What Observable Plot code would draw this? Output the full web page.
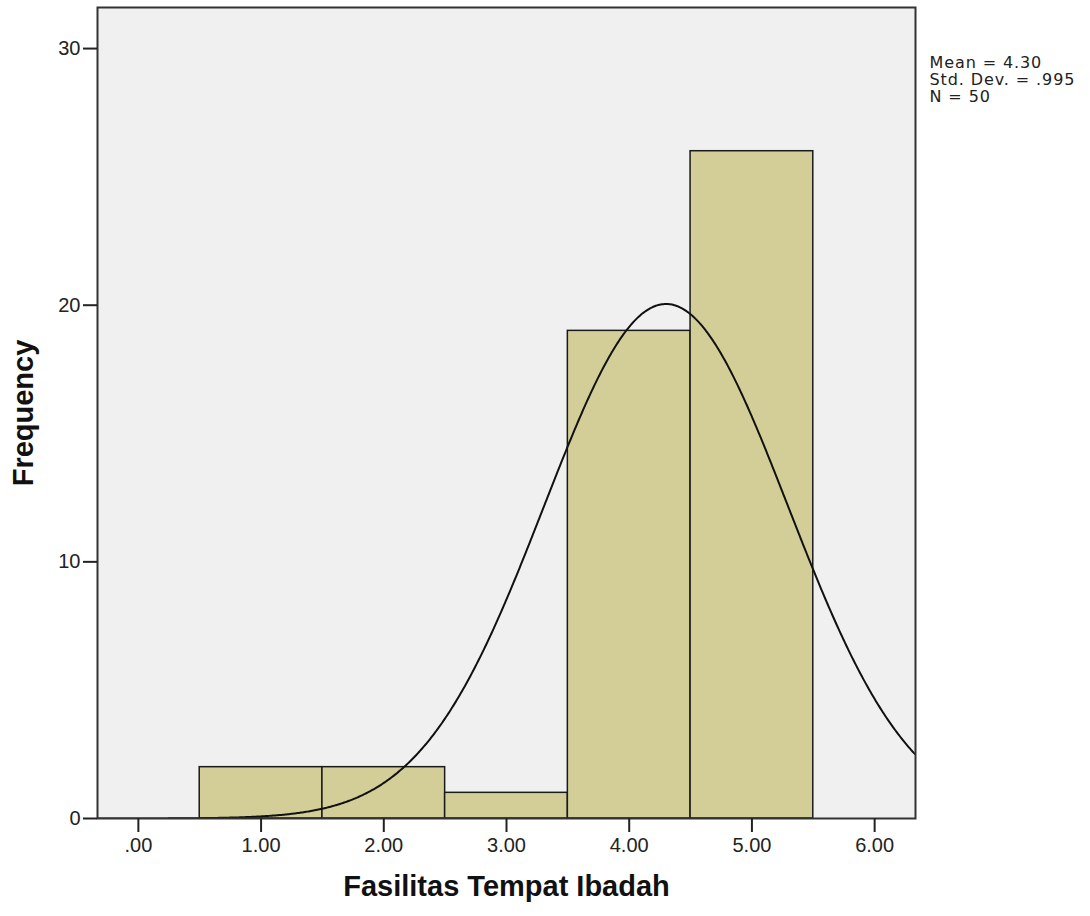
<!DOCTYPE html>
<html><head><meta charset="utf-8">
<script src="https://cdn.jsdelivr.net/npm/d3@7"></script>
<script src="https://cdn.jsdelivr.net/npm/@observablehq/plot@0.6"></script>
<style>body{margin:0;background:#fff;} svg{display:block;}</style>
</head><body><div id="chart"></div>
<script>
// Histogram bins and frequencies
const binStart = [0.5, 1.5, 2.5, 3.5, 4.5];
const binEnd = [1.5, 2.5, 3.5, 4.5, 5.5];
const frequency = [2, 2, 1, 19, 26];
// Axis ticks
const xTicks = [0, 1, 2, 3, 4, 5, 6];
const xTickLabels = [".00", "1.00", "2.00", "3.00", "4.00", "5.00", "6.00"];
const yTicks = [0, 10, 20, 30];
// Summary statistics (drive the fitted normal curve)
const mean = 4.30, stdDev = 0.995, n = 50, binWidth = 1;
const statLines = ["Mean = 4.30", "Std. Dev. = .995", "N = 50"];
const xTitle = "Fasilitas Tempat Ibadah";
const yTitle = "Frequency";

const bins = binStart.map((s, i) => ({x1: s, x2: binEnd[i], f: frequency[i]}));
const xDomain = [-0.333, 6.333];
const curve = d3.range(xDomain[0], xDomain[1] + 0.001, 0.01).map(x => ({
  x, y: n * binWidth / (stdDev * Math.sqrt(2 * Math.PI)) * Math.exp(-0.5 * ((x - mean) / stdDev) ** 2)
}));
const stats = statLines.map((t, i) => ({t, i}));

const chart = Plot.plot({
  width: 1090, height: 916,
  marginLeft: 97, marginRight: 175, marginTop: 7, marginBottom: 98,
  style: {fontFamily: "'Liberation Sans', Arial, sans-serif", background: "#fff", color: "#222"},
  x: {domain: xDomain},
  y: {domain: [0, 31.6]},
  marks: [
    Plot.frame({fill: "#f0f0f0", stroke: "none"}),
    Plot.rect(bins, {x1: "x1", x2: "x2", y1: 0, y2: "f", fill: "#d3ce97", stroke: "#1a1a1a", strokeWidth: 1.5}),
    Plot.line(curve, {x: "x", y: "y", stroke: "#111", strokeWidth: 2, clip: "frame"}),
    Plot.frame({stroke: "#333", strokeWidth: 2}),
    Plot.axisX(xTicks, {tickSize: 14, tickPadding: 5, fontSize: 20, strokeWidth: 2, tickFormat: (d) => xTickLabels[xTicks.indexOf(d)], label: null}),
    Plot.axisY(yTicks, {tickSize: 14, tickPadding: 3, fontSize: 20, strokeWidth: 2, label: null}),
    Plot.text([xTitle], {frameAnchor: "bottom", dy: 77, fontSize: 29, fontWeight: "bold", fill: "#111"}),
    Plot.text([yTitle], {frameAnchor: "left", dx: -74, rotate: -90, textAnchor: "middle", fontSize: 29, fontWeight: "bold", fill: "#111"}),
    Plot.text(stats, {text: "t", frameAnchor: "top-right", textAnchor: "start", lineAnchor: "middle", fontSize: 16, fontFamily: "'DejaVu Sans', sans-serif", fill: "#222",
      render: (index, scales, values, dims, context, next) => {
        const g = next(index, scales, values, dims, context);
        d3.select(g).selectAll("text").each(function(_, k) {
          const d = stats[index[k]];
          d3.select(this).attr("transform", `translate(929,${67 + d.i * 17})`).attr("x", null).attr("y", null).style("letter-spacing", "0.9px");
        });
        return g;
      }})
  ]
});
document.getElementById("chart").appendChild(chart);
</script>
</body></html>
